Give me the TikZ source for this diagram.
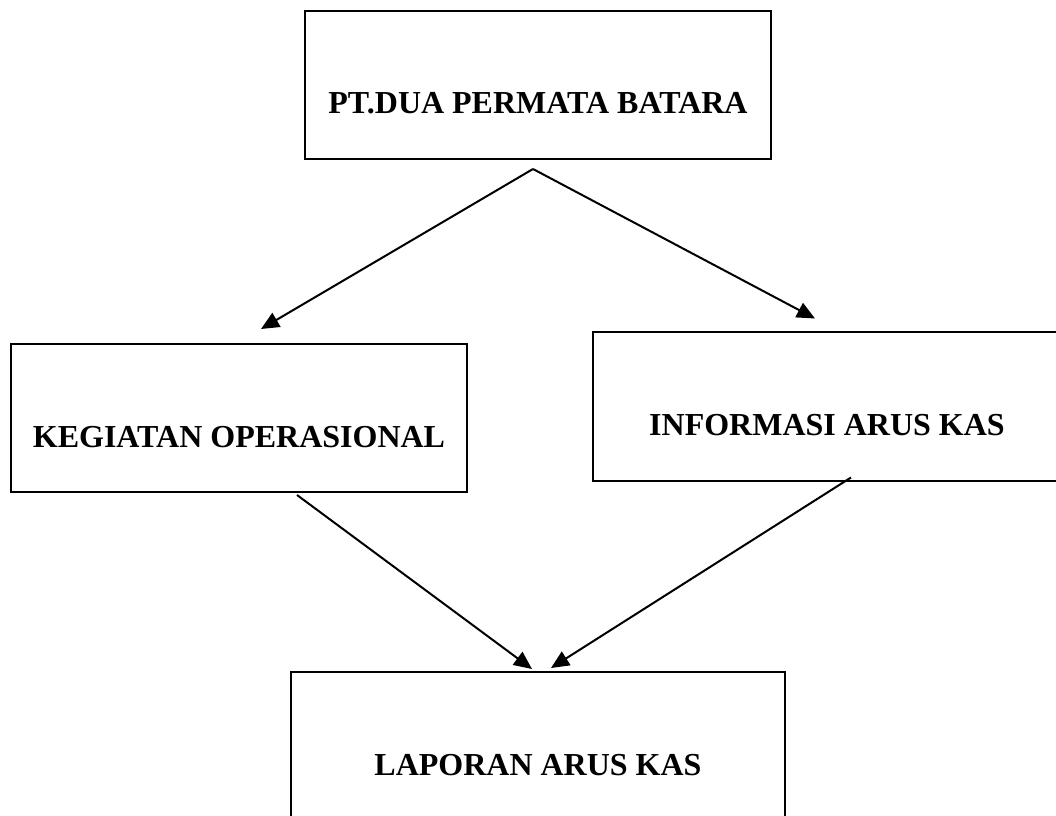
\documentclass[tikz,border=0pt]{standalone}
\usepackage{fontspec}
\setmainfont{Liberation Serif}
\usepackage{tikz}
\usetikzlibrary{shapes.geometric, arrows}
\usetikzlibrary{arrows.meta}
\tikzstyle{box} = [rectangle, minimum height=111pt, inner sep=0pt, text height=76.75pt, text depth=33.25pt, text centered, draw=black, line width=1.5pt, font=\fontsize{24}{28}\selectfont\bfseries]
\tikzstyle{arrow} = [line width=1.5pt,-{Triangle[length=13.5pt,width=12pt]}]

\begin{document}
\begin{tikzpicture}[x=0.75pt,y=-0.75pt]
\useasboundingbox (0,0) rectangle (1056,816);

\node (pt) [box, minimum width=350pt] at (538,85) {PT.DUA PERMATA BATARA};
\node (kegiatan) [box, minimum width=342pt] at (239,418) {KEGIATAN OPERASIONAL};
\node (informasi) [box, minimum width=351pt] at (827,406.5) {INFORMASI ARUS KAS};
\node (laporan) [box, minimum width=370.5pt] at (538,746) {LAPORAN ARUS KAS};

\draw [arrow] ([xshift=-3.75pt,yshift=-6.75pt]pt.south) -- ([xshift=16.5pt,yshift=10.5pt]kegiatan.north);
\draw [arrow] ([xshift=-3.75pt,yshift=-6.75pt]pt.south) -- ([xshift=-9pt,yshift=9.75pt]informasi.north);
\draw [arrow] ([xshift=43.5pt,yshift=-1.5pt]kegiatan.south) -- ([xshift=-4.5pt,yshift=1.5pt]laporan.north);
\draw [arrow] ([xshift=18pt,yshift=3pt]informasi.south) -- ([xshift=9.75pt,yshift=2.25pt]laporan.north);
\end{tikzpicture}
\end{document}
